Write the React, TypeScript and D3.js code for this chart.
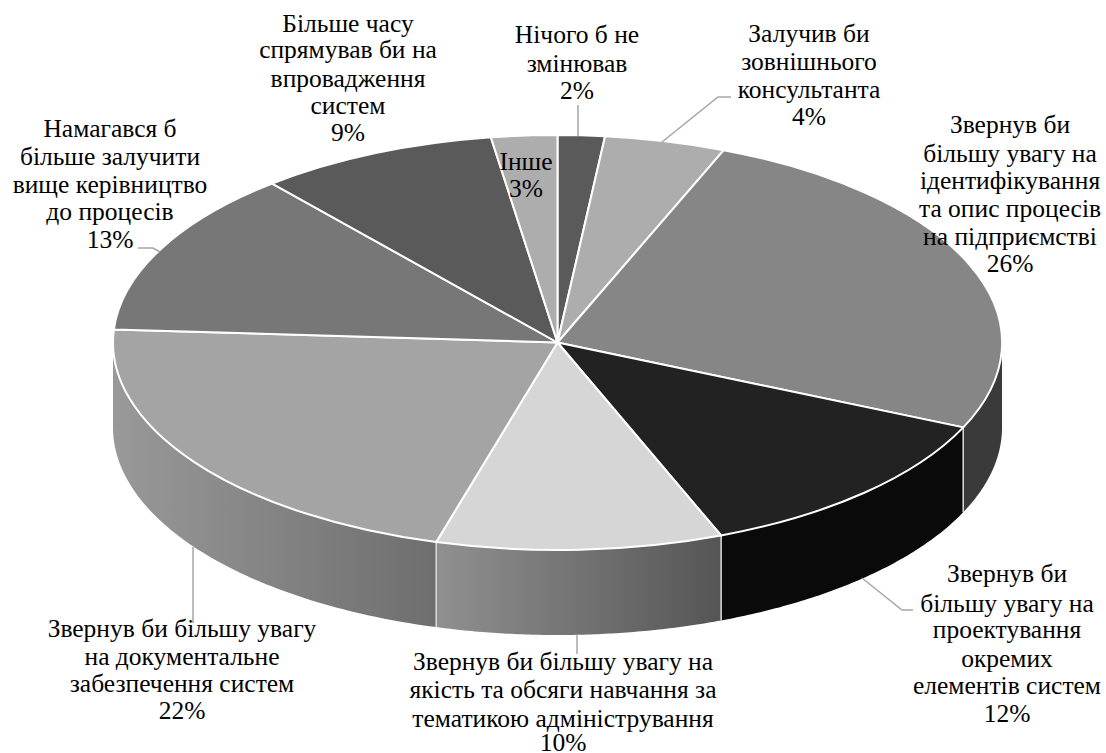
import React from "react";
import * as d3 from "d3";

// Chart data
const categories = [
  "Нічого б не змінював",
  "Залучив би зовнішнього консультанта",
  "Звернув би більшу увагу на ідентифікування та опис процесів на підприємстві",
  "Звернув би більшу увагу на проектування окремих елементів систем",
  "Звернув би більшу увагу на якість та обсяги навчання за тематикою адміністрування",
  "Звернув би більшу увагу на документальне забезпечення систем",
  "Намагався б більше залучити вище керівництво до процесів",
  "Більше часу спрямував би на впровадження систем",
  "Інше",
];
const shownPercent = [2, 4, 26, 12, 10, 22, 13, 9, 3];
const sliceValues = [1.7, 4.4, 25.6, 12.3, 10.4, 21.6, 12.9, 8.7, 2.4];

// Styles
const topColors = ["#5a5a5a", "#adadad", "#868686", "#222222", "#d6d6d6", "#a4a4a4", "#777777", "#5a5a5a", "#adadad"];
const sideStart = ["#555", "#999", "#3a3a3a", "#0a0a0a", "#909090", "#999999", "#777", "#555", "#999"];
const sideEnd = ["#555", "#999", "#3a3a3a", "#0a0a0a", "#555555", "#6e6e6e", "#777", "#555", "#999"];

// Layout
const cx = 557.5, cy = 342.5, rx = 444.5, ry = 207.5, depth = 85;
const labelLines = [
  ["Нічого б не", "змінював", "2%"],
  ["Залучив би", "зовнішнього", "консультанта", "4%"],
  ["Звернув би", "більшу увагу на", "ідентифікування", "та опис процесів", "на підприємстві", "26%"],
  ["Звернув би", "більшу увагу на", "проектування", "окремих", "елементів систем", "12%"],
  ["Звернув би більшу увагу на", "якість та обсяги навчання за", "тематикою адміністрування", "10%"],
  ["Звернув би більшу увагу", "на документальне", "забезпечення систем", "22%"],
  ["Намагався б", "більше залучити", "вище керівництво", "до процесів", "13%"],
  ["Більше часу", "спрямував би на", "впровадження", "систем", "9%"],
  ["Інше", "3%"],
];
const labelX = [577, 809, 1010, 1007, 563, 182, 110, 348, 526];
const labelBaselines = [
  [43, 72, 99],
  [42, 70, 98, 125],
  [133, 162, 189, 217, 245, 272],
  [582, 612, 638, 667, 694, 722],
  [670, 698, 727, 751],
  [637, 665, 692, 719],
  [137, 165, 193, 220, 248],
  [32, 58, 87, 114, 141],
  [170, 197],
];
const leaders: [number, number][][] = [
  [[578, 105], [578, 136]],
  [[731, 97], [718, 97], [662, 142]],
  [[138, 248], [153, 248], [160, 252]],
  [[193, 547], [193, 623]],
  [[577, 635], [577, 654]],
  [[862, 578], [902, 610], [913, 610]],
];

const pie = d3.pie<number>().sort(null).value((d) => d);
const slices = pie(sliceValues);
const unitArc = d3.arc<d3.PieArcDatum<number>>().innerRadius(0).outerRadius(1);
const px = (t: number) => cx + rx * Math.sin(t);
const py = (t: number) => cy - ry * Math.cos(t);

function sidePath(a: number, b: number) {
  const n = 80;
  const s = d3.scaleLinear().domain([0, n]).range([a, b]);
  const ts = d3.range(n + 1).map((i) => s(i));
  const area = d3
    .area<number>()
    .x((t) => px(t))
    .y0((t) => py(t))
    .y1((t) => py(t) + depth);
  return area(ts) as string;
}

export default function App() {
  const front = slices
    .map((s, i) => ({
      i,
      a: Math.max(s.startAngle, Math.PI / 2),
      b: Math.min(s.endAngle, (3 * Math.PI) / 2),
    }))
    .filter((d) => d.b > d.a);
  const line = d3.line();
  return (
    <svg
      width={1106}
      height={753}
      style={{ position: "absolute", left: 0, top: 0, background: "#fff" }}
      fontFamily="'Liberation Serif', serif"
    >
      <defs>
        {front.map((d) => (
          <linearGradient
            key={d.i}
            id={`side${d.i}`}
            gradientUnits="userSpaceOnUse"
            x1={Math.min(px(d.a), px(d.b))}
            x2={Math.max(px(d.a), px(d.b))}
            y1={0}
            y2={0}
          >
            <stop offset="0" stopColor={sideStart[d.i]} />
            <stop offset="1" stopColor={sideEnd[d.i]} />
          </linearGradient>
        ))}
      </defs>
      {front.map((d) => (
        <path key={d.i} d={sidePath(d.a, d.b)} fill={`url(#side${d.i})`} />
      ))}
      {front.map((d) =>
        d.a > Math.PI / 2 ? (
          <line
            key={d.i}
            x1={px(d.a)}
            x2={px(d.a)}
            y1={py(d.a)}
            y2={py(d.a) + depth}
            stroke="#dcdcdc"
            strokeWidth={1.5}
          />
        ) : null
      )}
      <g transform={`translate(${cx},${cy}) scale(${rx},${ry})`}>
        {slices.map((s, i) => (
          <path
            key={i}
            d={unitArc(s) as string}
            fill={topColors[i]}
            stroke="#fff"
            strokeWidth={2}
            vectorEffect="non-scaling-stroke"
            strokeLinejoin="round"
          />
        ))}
      </g>
      {leaders.map((pts, i) => (
        <path key={i} d={line(pts) as string} fill="none" stroke="#a6a6a6" strokeWidth={1.5} />
      ))}
      {categories.map((c, i) => (
        <text key={c} textAnchor="middle" fontSize={25.5} fill="#000">
          {labelLines[i].map((l, j) => (
            <tspan key={j} x={labelX[i]} y={labelBaselines[i][j]}>
              {l}
            </tspan>
          ))}
        </text>
      ))}
    </svg>
  );
}
